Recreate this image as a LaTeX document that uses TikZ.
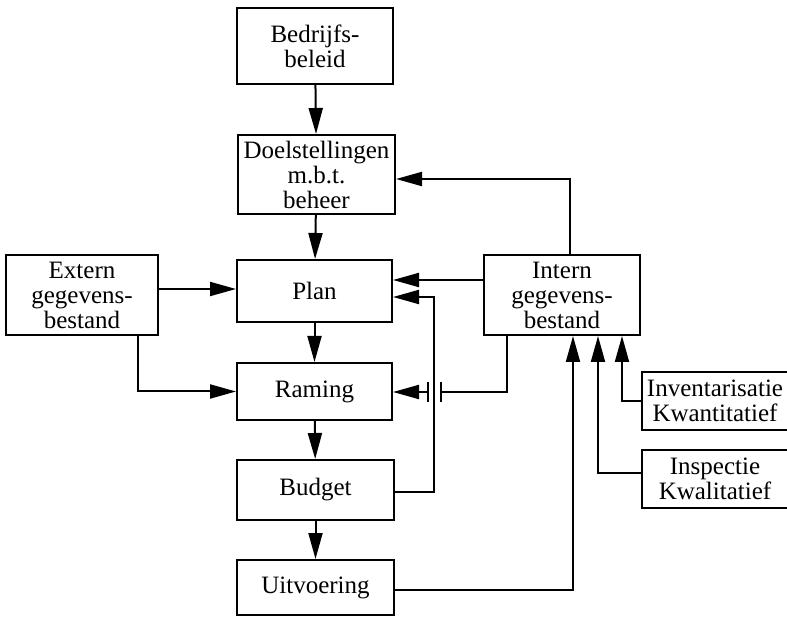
\documentclass[tikz,border=0pt]{standalone}
\usepackage{fontspec}
\setmainfont{Liberation Serif}
\usetikzlibrary{arrows.meta}
\begin{document}
\begin{tikzpicture}[x=1pt,y=-1pt,
  box/.style={draw, line width=2pt, inner sep=0pt, align=center,
    font=\fontsize{25}{25}\selectfont},
  arr/.style={line width=2pt, -{Triangle[length=26pt,width=14pt]}},
  ln/.style={line width=2pt}]
\useasboundingbox (0,0) rectangle (787,617);
\node[box, minimum width=156pt, minimum height=76pt] (bed) at (315,46) {Bedrijfs-\\beleid};
\node[box, minimum width=157pt, minimum height=79pt] (doel) at (316.5,174.5) {Doelstellingen\\m.b.t.\\beheer};
\node[box, minimum width=155pt, minimum height=62pt] (plan) at (314.5,291) {Plan};
\node[box, minimum width=155pt, minimum height=57pt] (ram) at (314.5,391.5) {Raming};
\node[box, minimum width=157pt, minimum height=60pt] (bud) at (315.5,490) {Budget};
\node[box, minimum width=157pt, minimum height=55pt] (uit) at (315.5,587.5) {Uitvoering};
\node[box, minimum width=152pt, minimum height=80pt] (ext) at (82,295) {Extern\\gegevens-\\bestand};
\node[box, minimum width=156pt, minimum height=80pt] (int) at (562,295) {Intern\\gegevens-\\bestand};
\node[box, minimum width=146pt, minimum height=58pt] (inv) at (715,401) {Inventarisatie\\Kwantitatief};
\node[box, minimum width=146pt, minimum height=58pt] (insp) at (715,479) {Inspectie\\Kwalitatief};
% vertical chain
\draw[arr] (bed) -- (doel);
\draw[arr] (doel) -- (plan);
\draw[arr] (plan) -- (ram);
\draw[arr] (ram) -- (bud);
\draw[arr] (bud) -- (uit);
% extern
\draw[arr] (ext.east |- 0,289) -- (plan.west |- 0,289);
\coordinate (eb) at (138,335);
\draw[arr] (eb) |- (ram.west);
% intern
\draw[arr] (int.west |- 0,280) -- (plan.east |- 0,280);
\coordinate (it) at (570,255);
\draw[arr] (it) |- (doel.east |- 0,179);
% budget feedback
\coordinate (bk) at (434,297);
\draw[arr] (bud.east |- 0,492) -| (bk) -- (plan.east |- bk);
% intern to raming with crossing break
\coordinate (ib) at (507,335);
\coordinate (j1) at (441,392);
\coordinate (j2) at (428,392);
\draw[ln] (ib) |- (j1);
\draw[ln] ([yshift=10pt]j1) -- ([yshift=-10pt]j1);
\draw[ln] ([yshift=10pt]j2) -- ([yshift=-10pt]j2);
\draw[arr] (j2) -- (ram.east |- j2);
% uitvoering, inspectie, inventarisatie to intern
\draw[arr] (uit.east |- 0,590) -| (int.south -| 573,0);
\draw[arr] (insp.west |- 0,473) -| (int.south -| 598,0);
\draw[arr] (inv.west) -| (int.south -| 622,0);
\end{tikzpicture}
\end{document}
